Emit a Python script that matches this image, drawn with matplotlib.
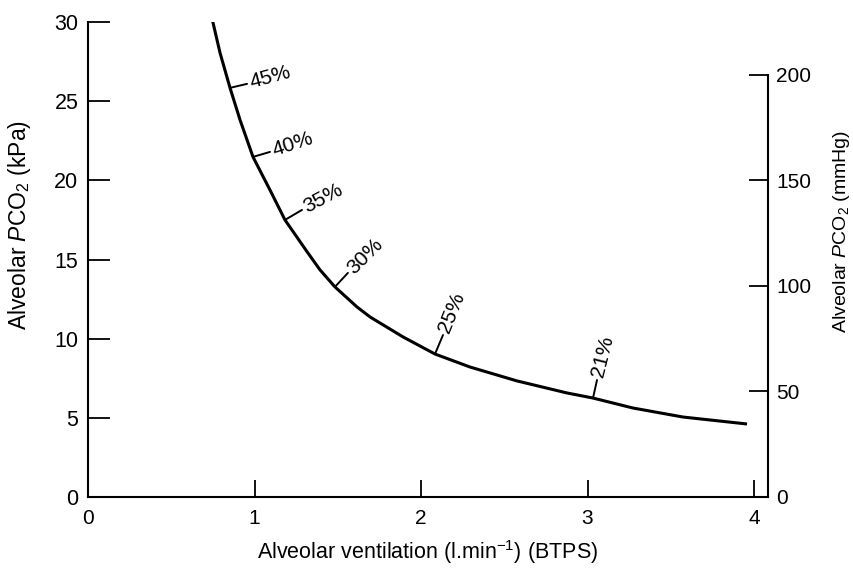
import numpy as np
import matplotlib
matplotlib.use("Agg")
import matplotlib.pyplot as plt

plt.rcParams['font.family'] = ['Liberation Sans', 'DejaVu Sans']
plt.rcParams['mathtext.fontset'] = 'custom'
plt.rcParams['mathtext.rm'] = 'Liberation Sans'
plt.rcParams['mathtext.it'] = 'Liberation Sans:italic'

# curve: alveolar ventilation (l/min) vs alveolar PCO2 (kPa)
vent = [0.747, 0.793, 0.853, 0.913, 0.991, 1.093, 1.183, 1.315, 1.393, 1.483,
        1.616, 1.694, 1.892, 2.084, 2.294, 2.577, 2.877, 3.033, 3.273,
        3.574, 3.958]
pco2 = [30.13, 28.05, 25.84, 23.82, 21.48, 19.39, 17.5, 15.5, 14.35, 13.27,
        12.00, 11.37, 10.11, 9.03, 8.21, 7.33, 6.57, 6.25, 5.62,
        5.05, 4.61]

# inspired O2 labels along the curve
o2_labels = ["45%", "40%", "35%", "30%", "25%", "21%"]
o2_vent = [0.853, 0.991, 1.183, 1.483, 2.084, 3.033]
o2_pco2 = [25.84, 21.48, 17.5, 13.27, 9.03, 6.25]

KPA_TO_MMHG = 7.50062

fig = plt.figure(figsize=(8.54, 5.69), dpi=100)
ax = fig.add_axes([88/854, 72/569, 680/854, 475/569])

ax.plot(vent, pco2, color='black', lw=2.2, solid_capstyle='butt', solid_joinstyle='round')

# little normal ticks + rotated labels
tick_dir = [(17, 4), (17, 5), (17, 10), (13, 14), (8, 19), (4, 18)]
rot = [15, 18, 28, 45, 68, 76]
for lab, x, y, (dx, dy), r in zip(o2_labels, o2_vent, o2_pco2, tick_dir, rot):
    ax.annotate('', xy=(x, y), xytext=(dx, dy), textcoords='offset pixels',
                arrowprops=dict(arrowstyle='-', lw=1.4, color='black',
                                shrinkA=0, shrinkB=0))
    n = np.hypot(dx, dy)
    ax.annotate(lab, xy=(x, y), xytext=(dx + 3*dx/n, dy + 3*dy/n),
                textcoords='offset pixels', rotation=r, rotation_mode='anchor',
                ha='left', va='center', fontsize=15)

ax.set_xlim(0, 4.084)
ax.set_ylim(0, 30)
ax.set_xticks([0, 1, 2, 3, 4])
ax.set_yticks([0, 5, 10, 15, 20, 25, 30])
ax.spines['top'].set_visible(False)
ax.spines['right'].set_visible(False)
for s in ['left', 'bottom']:
    ax.spines[s].set_linewidth(1.5)
ax.tick_params(axis='y', direction='in', length=16, width=1.3, labelsize=15.5, pad=7)
ax.tick_params(axis='x', direction='in', length=12, width=1.3, labelsize=15, pad=9)

ax2 = ax.twinx()
ax2.set_ylim(0, 30 * KPA_TO_MMHG)
ax2.set_yticks([0, 50, 100, 150, 200])
for s in ['top', 'left', 'bottom']:
    ax2.spines[s].set_visible(False)
ax2.spines['right'].set_bounds(0, 200)
ax2.spines['right'].set_linewidth(1.5)
ax2.tick_params(axis='y', direction='in', length=14, width=1.3, labelsize=15, pad=6)

ax.set_ylabel(r'Alveolar $P\mathrm{CO}_2$ (kPa)', fontsize=16.5)
ax.yaxis.set_label_coords(-0.081, 0.572)
ax2.set_ylabel(r'Alveolar $P\mathrm{CO}_2$ (mmHg)', fontsize=14)
ax2.yaxis.set_label_coords(1.093, 0.558)
ax.set_xlabel('Alveolar ventilation (l.min$^{-1}$) (BTPS)', fontsize=15.5, labelpad=7)

fig.savefig('out.png', dpi=100)
